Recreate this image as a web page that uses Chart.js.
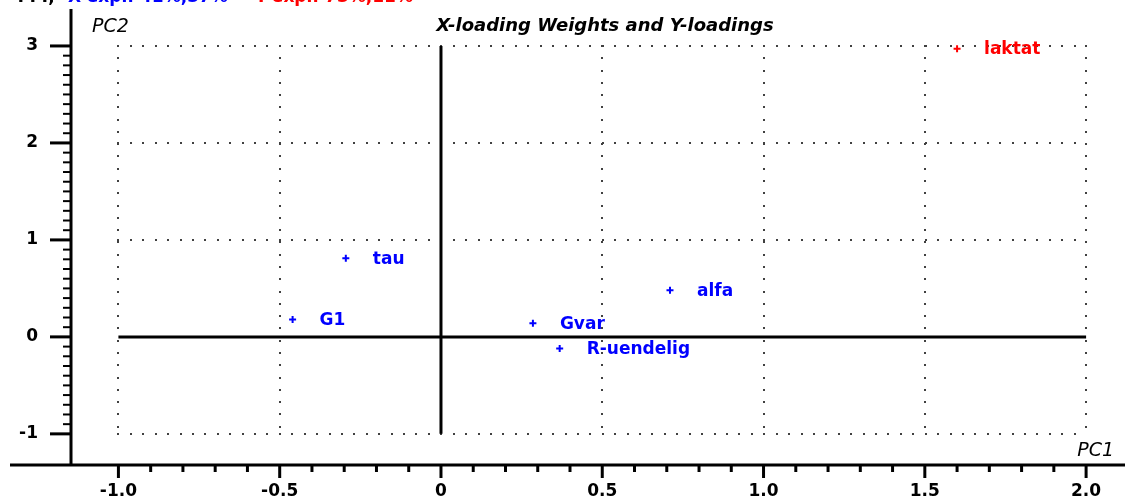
<!DOCTYPE html>
<html><head><meta charset="utf-8">
<script src="https://cdn.jsdelivr.net/npm/chart.js@4.4.1/dist/chart.umd.min.js"></script>
<style>html,body{margin:0;padding:0;background:#fff;overflow:hidden;} #wrap{width:1125px;height:499px;}</style>
</head><body><div id="wrap"><canvas id="c" width="1125" height="499"></canvas></div>
<script>
const xLabels = ['G1', 'tau', 'Gvar', 'R-uendelig', 'alfa'];
const xPC1 = [-0.46, -0.295, 0.285, 0.368, 0.71];
const xPC2 = [0.18, 0.81, 0.14, -0.12, 0.48];
const yLabels = ['laktat'];
const yPC1 = [1.60];
const yPC2 = [2.97];
const xTickValues = [-1.0, -0.5, 0, 0.5, 1.0, 1.5, 2.0];
const yTickValues = [-1, 0, 1, 2, 3];
const chartTitle = 'X-loading Weights and Y-loadings';
const xAxisTitle = 'PC1';
const yAxisTitle = 'PC2';
const headerParts = [['TTT,', '#000000'], ['X-expl: 41%,37%', '#0000ff'], ['Y-expl: 73%,11%', '#ff0000']];

const FONT = 'DejaVu Sans';
const BLUE = '#0000ff', RED = '#ff0000';

const decor = {
  id: 'decor',
  beforeDatasetsDraw(chart) {
    const ctx = chart.ctx, xs = chart.scales.x, ys = chart.scales.y;
    const x0 = xs.getPixelForValue(-1), x1 = xs.getPixelForValue(2);
    const y0 = ys.getPixelForValue(3), y1 = ys.getPixelForValue(-1);
    ctx.save();
    // dotted grid
    ctx.fillStyle = '#404040';
    yTickValues.filter(v => v !== 0).forEach(v => {
      const py = Math.round(ys.getPixelForValue(v));
      for (let px = x0; px <= x1 + 0.5; px += 12.42) ctx.fillRect(Math.round(px) - 1, py - 1, 2, 2);
    });
    xTickValues.filter(v => v !== 0).forEach(v => {
      const px = Math.round(xs.getPixelForValue(v));
      for (let py = y0; py <= y1 + 0.5; py += 12.28) ctx.fillRect(px - 1, Math.round(py) - 1, 2, 2);
    });
    // zero lines
    ctx.strokeStyle = '#000'; ctx.lineWidth = 3;
    const zx = xs.getPixelForValue(0), zy = ys.getPixelForValue(0);
    ctx.beginPath(); ctx.moveTo(x0, zy); ctx.lineTo(x1, zy); ctx.stroke();
    ctx.beginPath(); ctx.moveTo(zx, y0); ctx.lineTo(zx, y1); ctx.stroke();
    // axes
    const ax = chart.chartArea.left, ay = chart.chartArea.bottom;
    ctx.beginPath(); ctx.moveTo(ax, 9); ctx.lineTo(ax, ay); ctx.stroke();
    ctx.beginPath(); ctx.moveTo(10, ay); ctx.lineTo(1125, ay); ctx.stroke();
    // y ticks
    for (let i = -10; i <= 30; i++) {
      const v = i / 10, py = ys.getPixelForValue(v);
      if (i % 10 === 0) { ctx.lineWidth = 3; ctx.beginPath(); ctx.moveTo(ax - 21, py); ctx.lineTo(ax, py); ctx.stroke(); }
      else { ctx.lineWidth = 2; ctx.beginPath(); ctx.moveTo(ax - 8, py); ctx.lineTo(ax, py); ctx.stroke(); }
    }
    // x ticks
    for (let i = -10; i <= 20; i++) {
      const v = i / 10, px = xs.getPixelForValue(v);
      ctx.lineWidth = 3; ctx.beginPath(); ctx.moveTo(px, ay); ctx.lineTo(px, ay + (i % 5 === 0 ? 13 : 7)); ctx.stroke();
    }
    ctx.restore();
  },
  afterDatasetsDraw(chart) {
    const ctx = chart.ctx;
    ctx.save();
    ctx.textBaseline = 'middle'; ctx.textAlign = 'left';
    ctx.font = 'bold 17px "' + FONT + '"';
    chart.data.datasets.forEach((ds, di) => {
      const meta = chart.getDatasetMeta(di);
      meta.data.forEach((pt, i) => {
        ctx.fillStyle = ds.borderColor;
        ctx.fillText(ds.labels[i], pt.x + 27, pt.y + 1);
      });
    });
    // title
    ctx.fillStyle = '#000'; ctx.textAlign = 'center';
    ctx.font = 'italic bold 18px "' + FONT + '"';
    ctx.fillText(chartTitle, 605, 26);
    // axis titles
    ctx.font = 'italic 19px "' + FONT + '"';
    ctx.textAlign = 'left'; ctx.fillText(yAxisTitle, 92, 27);
    ctx.textAlign = 'right'; ctx.fillText(xAxisTitle, 1114, 451);
    // header (cut at top)
    ctx.font = 'bold 17px "' + FONT + '"';
    ctx.textAlign = 'left'; ctx.textBaseline = 'alphabetic';
    const starts = [15, 68, 255];
    headerParts.forEach((p, i) => { ctx.fillStyle = p[1]; ctx.fillText(p[0], starts[i], 2); });
    ctx.restore();
  }
};

new Chart(document.getElementById('c'), {
  type: 'scatter',
  data: {
    datasets: [
      { labels: xLabels, data: xPC1.map((v, i) => ({x: v, y: xPC2[i]})), borderColor: BLUE, backgroundColor: BLUE,
        pointStyle: 'cross', pointRadius: 3.5, borderWidth: 2 },
      { labels: yLabels, data: yPC1.map((v, i) => ({x: v, y: yPC2[i]})), borderColor: RED, backgroundColor: RED,
        pointStyle: 'cross', pointRadius: 3.5, borderWidth: 2 }
    ]
  },
  options: {
    responsive: false, animation: false, events: [],
    layout: { padding: { left: 0, right: 5, top: 0, bottom: 0 } },
    plugins: { legend: { display: false }, tooltip: { enabled: false }, title: { display: false } },
    scales: {
      x: {
        type: 'linear', min: -1.147, max: 2.102,
        afterFit: s => { s.height = 34; s.paddingLeft = 0; s.paddingRight = 0; },
        afterBuildTicks: s => { s.ticks = xTickValues.map(v => ({value: v})); },
        ticks: { font: { family: FONT, size: 17, weight: 'bold' }, color: '#000', padding: 16, autoSkip: false, maxRotation: 0,
          callback: v => v === 0 ? '0' : Number(v).toFixed(1) },
        grid: { display: false, drawTicks: false }, border: { display: false }
      },
      y: {
        type: 'linear', min: -1.321, max: 3.412,
        afterFit: s => { s.width = 71; s.paddingTop = 0; s.paddingBottom = 0; },
        afterBuildTicks: s => { s.ticks = yTickValues.map(v => ({value: v})); },
        ticks: { font: { family: FONT, size: 17, weight: 'bold' }, color: '#000', padding: 33, autoSkip: false,
          callback: v => String(v) },
        grid: { display: false, drawTicks: false }, border: { display: false }
      }
    }
  },
  plugins: [decor]
});
</script></body></html>
